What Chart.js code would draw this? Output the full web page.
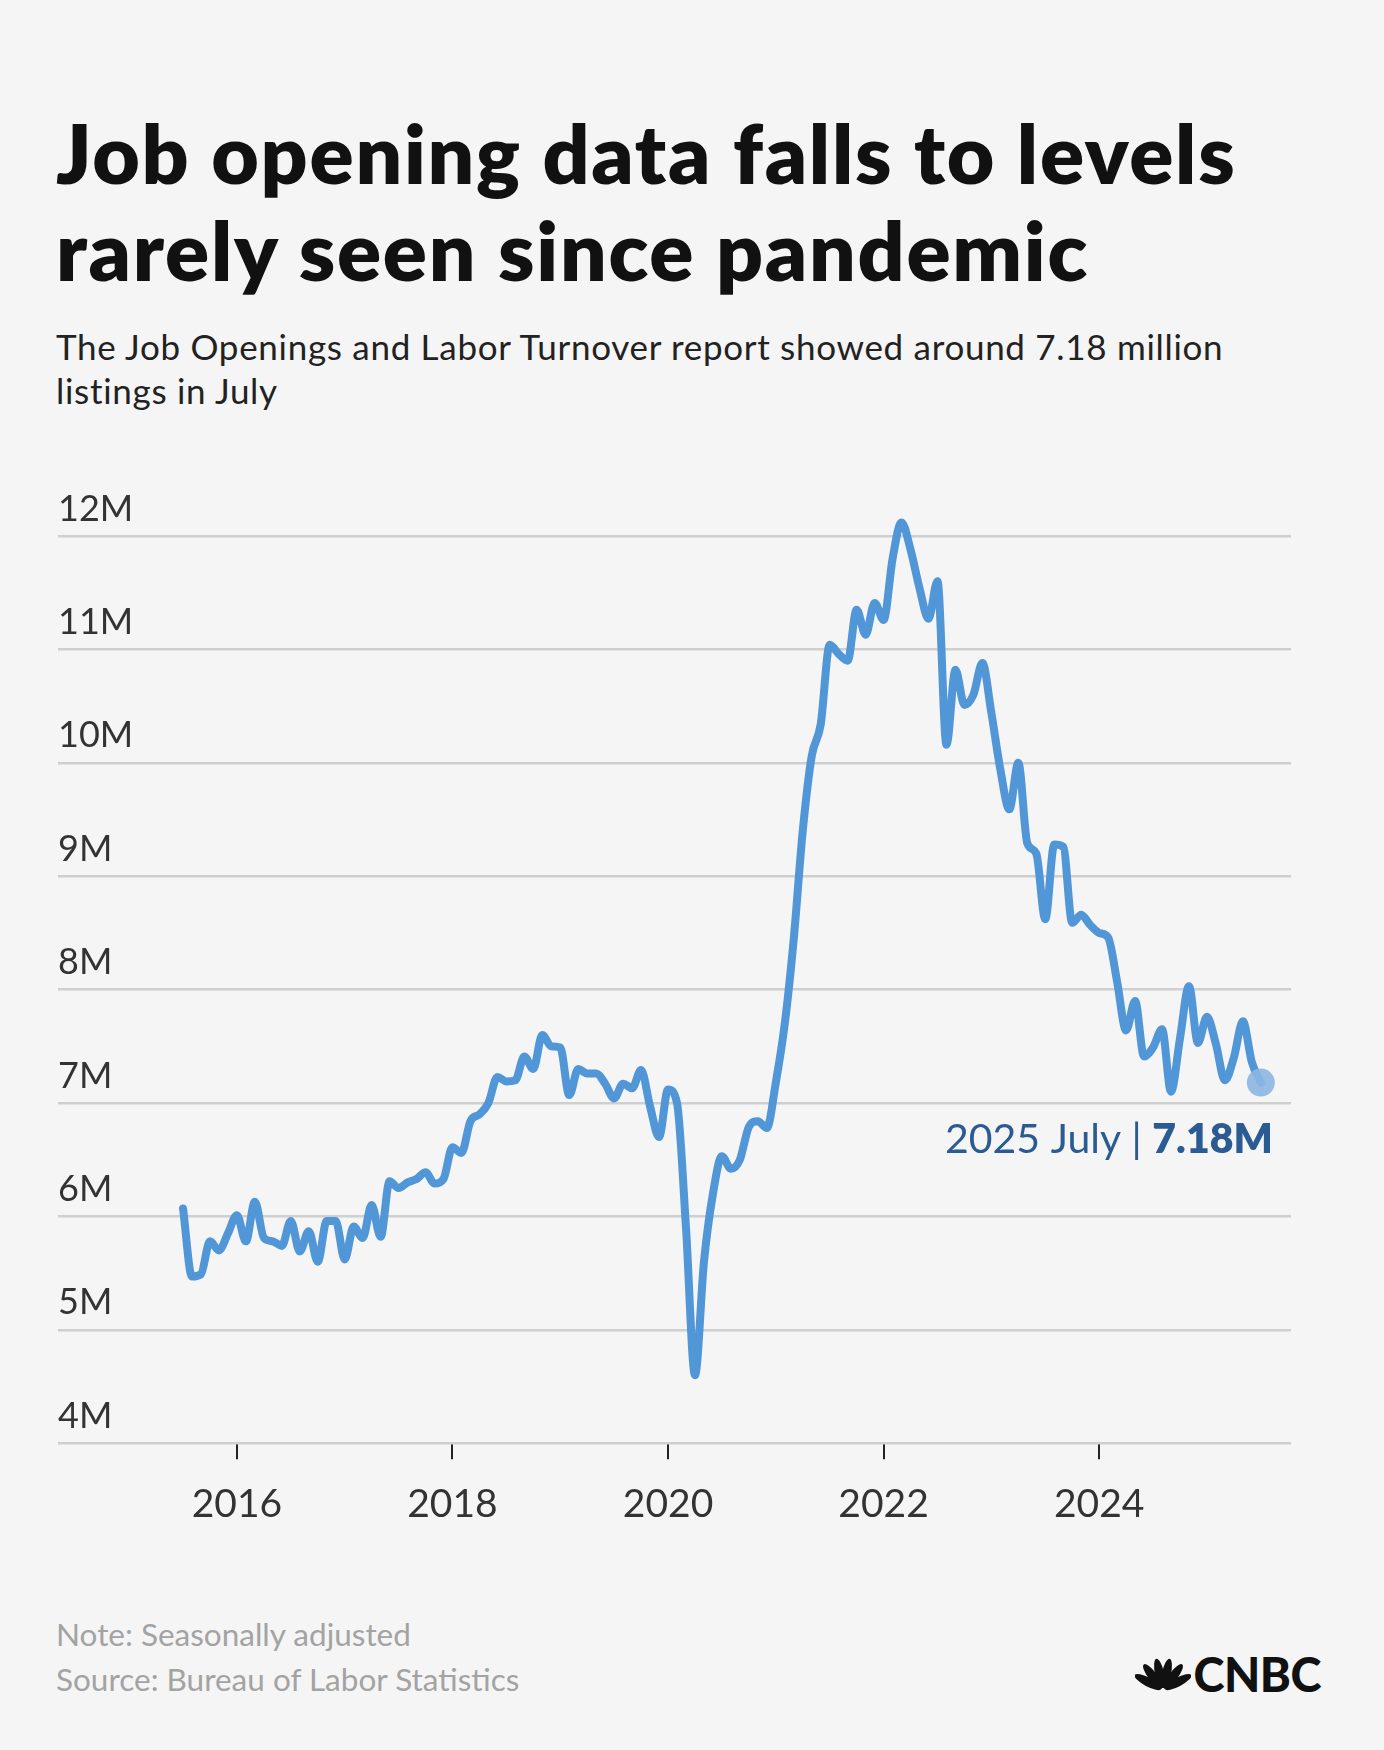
<!DOCTYPE html>
<html>
<head>
<meta charset="utf-8">
<title>Job openings</title>
<script src="https://cdn.jsdelivr.net/npm/chart.js@4.4.1/dist/chart.umd.min.js"></script>
<style>
  html, body { margin: 0; padding: 0; }
  body {
    width: 1384px; height: 1750px; position: relative; overflow: hidden;
    background: #f5f5f5; font-family: "Lato", "Noto Sans", sans-serif;
  }
  #titulo {
    position: absolute; left: 56px; top: 104px; margin: 0;
    font-size: 82px; line-height: 97px; font-weight: 800; color: #111;
    letter-spacing: 1.75px;
  }
  #subtitulo {
    position: absolute; left: 56px; top: 324px; margin: 0; width: 1220px;
    font-size: 35px; line-height: 44px; font-weight: 400; color: #222;
    letter-spacing: 0.7px;
  }
  #contenedorGrafico {
    position: absolute; left: 0; top: 440px; width: 1384px; height: 1119px;
  }
  #nota {
    position: absolute; left: 56px; top: 1612px;
    font-size: 31.5px; line-height: 45px; color: #a3a3a3;
  }
  #logo {
    position: absolute; right: 63px; top: 1652px; height: 42px;
    display: flex; align-items: flex-end; gap: 3px;
  }
  #logo span {
    font-size: 47px; line-height: 40px; font-weight: 900; color: #111; letter-spacing: -0.5px;
  }
</style>
</head>
<body>

<h1 id="titulo">Job opening data falls to levels<br>rarely seen since pandemic</h1>
<p id="subtitulo">The Job Openings and Labor Turnover report showed around 7.18 million listings in July</p>

<div id="contenedorGrafico"><canvas id="graficoVacantes"></canvas></div>

<div id="nota">Note: Seasonally adjusted<br>Source: Bureau of Labor Statistics</div>

<div id="logo">
  <svg width="56" height="38" viewBox="0 0 56 38">
    <g fill="#111">
      <ellipse cx="28" cy="17" rx="4.5" ry="15" transform="rotate(-62 28 34)"/>
      <ellipse cx="28" cy="17" rx="4.5" ry="15" transform="rotate(-37 28 34)"/>
      <ellipse cx="28" cy="17" rx="4.5" ry="15" transform="rotate(-12 28 34)"/>
      <ellipse cx="28" cy="17" rx="4.5" ry="15" transform="rotate(12 28 34)"/>
      <ellipse cx="28" cy="17" rx="4.5" ry="15" transform="rotate(37 28 34)"/>
      <ellipse cx="28" cy="17" rx="4.5" ry="15" transform="rotate(62 28 34)"/>
    </g>
  </svg>
  <span>CNBC</span>
</div>

<script>
// primer mes de la serie: julio 2015
const anioInicio = 2015;
const mesInicio = 7;
const nombresMes = ['January', 'February', 'March', 'April', 'May', 'June',
  'July', 'August', 'September', 'October', 'November', 'December'];

// vacantes en millones, mensual
const vacantes2015 = [6.07, 5.47, 5.49, 5.78, 5.70, 5.85];
const vacantes2016 = [6.01, 5.78, 6.13, 5.81, 5.78, 5.74, 5.96, 5.69, 5.87, 5.60, 5.96, 5.96];
const vacantes2017 = [5.62, 5.91, 5.81, 6.10, 5.82, 6.31, 6.25, 6.30, 6.33, 6.39, 6.29, 6.33];
const vacantes2018 = [6.61, 6.56, 6.84, 6.90, 7.00, 7.23, 7.19, 7.20, 7.41, 7.30, 7.60, 7.50];
const vacantes2019 = [7.49, 7.07, 7.30, 7.26, 7.26, 7.17, 7.04, 7.17, 7.13, 7.29, 6.97, 6.70];
const vacantes2020 = [7.12, 7.00, 5.90, 4.60, 5.60, 6.20, 6.53, 6.42, 6.50, 6.79, 6.84, 6.78];
const vacantes2021 = [7.18, 7.70, 8.45, 9.40, 10.06, 10.34, 11.04, 10.96, 10.90, 11.35, 11.13, 11.41];
const vacantes2022 = [11.26, 11.80, 12.12, 11.88, 11.54, 11.27, 11.60, 10.16, 10.82, 10.51, 10.60, 10.88];
const vacantes2023 = [10.44, 9.94, 9.59, 10.00, 9.29, 9.20, 8.62, 9.28, 9.26, 8.59, 8.66, 8.57];
const vacantes2024 = [8.50, 8.46, 8.07, 7.64, 7.90, 7.41, 7.49, 7.65, 7.10, 7.57, 8.03, 7.53];
const vacantes2025 = [7.76, 7.52, 7.20, 7.40, 7.72, 7.36, 7.18];

const ticksAnios = [2016, 2018, 2020, 2022, 2024];
const ticksMillones = [4, 5, 6, 7, 8, 9, 10, 11, 12];

const vacantes = [].concat(vacantes2015, vacantes2016, vacantes2017, vacantes2018,
  vacantes2019, vacantes2020, vacantes2021, vacantes2022, vacantes2023, vacantes2024, vacantes2025);

const puntos = vacantes.map((v, i) => ({
  x: anioInicio + (mesInicio - 1 + i) / 12,
  y: v
}));

const ultimo = vacantes.length - 1;
const mesUltimo = (mesInicio - 1 + ultimo) % 12;
const anioUltimo = anioInicio + Math.floor((mesInicio - 1 + ultimo) / 12);

const etiquetaFinal = {
  id: 'etiquetaFinal',
  afterDatasetsDraw(chart) {
    const p = chart.getDatasetMeta(0).data[ultimo];
    const ctx = chart.ctx;
    const derecha = p.x + 12;
    const base = p.y + 70;
    const negrita = vacantes[ultimo].toFixed(2) + 'M';
    const normal = anioUltimo + ' ' + nombresMes[mesUltimo] + ' | ';
    ctx.save();
    ctx.fillStyle = '#2a5b93';
    ctx.textBaseline = 'alphabetic';
    ctx.textAlign = 'right';
    ctx.font = '800 41px Lato';
    ctx.fillText(negrita, derecha, base);
    const ancho = ctx.measureText(negrita).width;
    ctx.font = '400 41px Lato';
    ctx.fillText(normal, derecha - ancho, base);
    ctx.restore();
  }
};

const ctx = document.getElementById('graficoVacantes').getContext('2d');

const chartVacantes = new Chart(ctx, {
  type: 'line',
  data: {
    datasets: [{
      label: 'Job openings',
      data: puntos,
      borderColor: '#5196d6',
      borderWidth: 8,
      borderJoinStyle: 'round',
      borderCapStyle: 'round',
      cubicInterpolationMode: 'monotone',
      pointRadius: vacantes.map((v, i) => i === ultimo ? 14 : 0),
      pointBackgroundColor: 'rgba(140, 182, 226, 0.9)',
      pointBorderWidth: 0,
      pointHoverRadius: 0,
      clip: false
    }]
  },
  options: {
    responsive: true,
    maintainAspectRatio: false,
    animation: false,
    layout: { padding: { left: 58, right: 93, top: 96, bottom: 9 } },
    plugins: {
      legend: { display: false },
      tooltip: { enabled: false },
      title: { display: false }
    },
    scales: {
      x: {
        type: 'linear',
        min: 2014.34,
        max: 2025.78,
        afterBuildTicks: (scale) => { scale.ticks = ticksAnios.map(v => ({ value: v })); },
        grid: { drawOnChartArea: false, drawTicks: true, tickLength: 16, color: '#222', lineWidth: 2 },
        border: { display: false },
        ticks: {
          callback: (v) => String(v),
          font: { family: 'Lato', size: 39, lineHeight: 1.2 },
          color: '#333',
          padding: 22,
          maxRotation: 0
        }
      },
      y: {
        min: 4,
        max: 12,
        afterBuildTicks: (scale) => { scale.ticks = ticksMillones.map(v => ({ value: v })); },
        grid: { color: '#cfcfcf', lineWidth: 2.5, drawTicks: false },
        border: { display: false },
        ticks: {
          mirror: true,
          padding: 0,
          labelOffset: -27,
          callback: (v) => v + 'M',
          font: { family: 'Lato', size: 36 },
          color: '#333'
        }
      }
    }
  },
  plugins: [etiquetaFinal]
});

chartVacantes.update();
</script>
</body>
</html>
